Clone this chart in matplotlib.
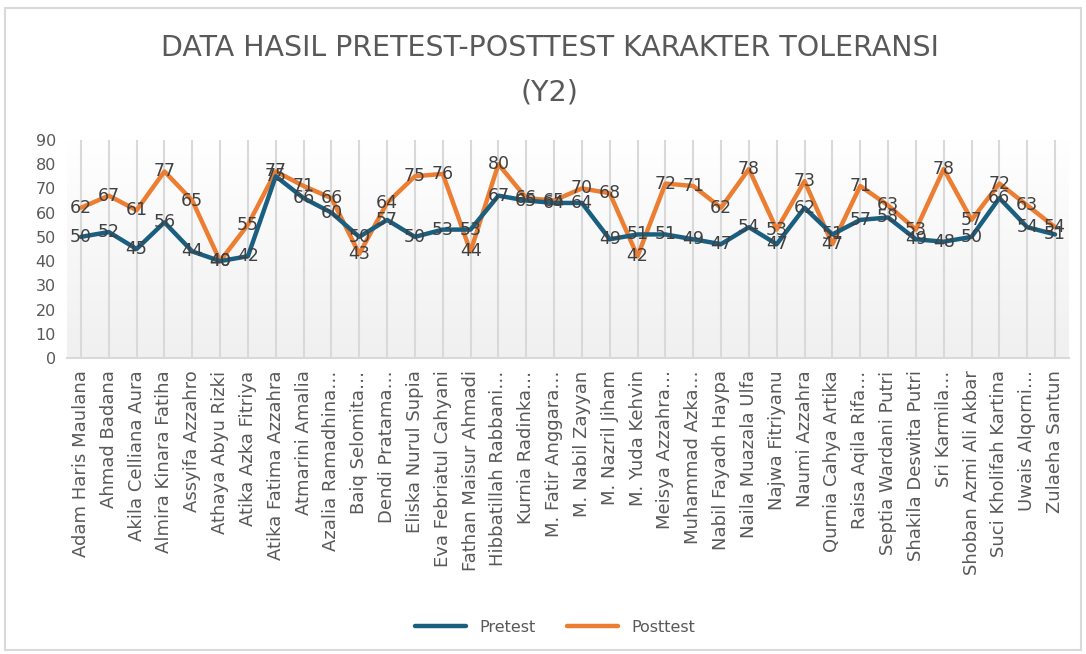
import numpy as np
import matplotlib.pyplot as plt
from matplotlib.lines import Line2D
from matplotlib.patches import Rectangle
from matplotlib.colors import LinearSegmentedColormap

# data
names = ["Adam Haris Maulana", "Ahmad Badana", "Akila Celliana Aura", "Almira Kinara Fatiha",
         "Assyifa Azzahro", "Athaya Abyu Rizki", "Atika Azka Fitriya", "Atika Fatima Azzahra",
         "Atmarini Amalia", "Azalia Ramadhina…", "Baiq Selomita…", "Dendi Pratama…",
         "Eliska Nurul Supia", "Eva Febriatul Cahyani", "Fathan Maisur Ahmadi", "Hibbatillah Rabbani…",
         "Kurnia Radinka…", "M. Fatir Anggara…", "M. Nabil Zayyan", "M. Nazril Jiham",
         "M. Yuda Kehvin", "Meisya Azzahra…", "Muhammad Azka…", "Nabil Fayadh Haypa",
         "Naila Muazala Ulfa", "Najwa Fitriyanu", "Naumi Azzahra", "Qurnia Cahya Artika",
         "Raisa Aqila Rifa…", "Septia Wardani Putri", "Shakila Deswita Putri", "Sri Karmila…",
         "Shoban Azmi Ali Akbar", "Suci Kholifah Kartina", "Uwais Alqorni…", "Zulaeha Santun"]
pretest = [50, 52, 45, 56, 44, 40, 42, 75, 66, 60, 50, 57, 50, 53, 53, 67, 65, 64,
           64, 49, 51, 51, 49, 47, 54, 47, 62, 51, 57, 58, 49, 48, 50, 66, 54, 51]
posttest = [62, 67, 61, 77, 65, 40, 55, 77, 71, 66, 43, 64, 75, 76, 44, 80, 66, 65,
            70, 68, 42, 72, 71, 62, 78, 53, 73, 47, 71, 63, 53, 78, 57, 72, 63, 54]

blue = "#1b5f80"
orange = "#ed7d31"
grey_txt = "#595959"
plt.rcParams['font.family'] = ['DejaVu Sans']

fig = plt.figure(figsize=(10.86, 6.54), dpi=100)
ax = fig.add_axes([0.0617, 0.4526, 0.9226, 0.3334])
x = np.arange(len(names))
ax.set_xlim(-0.5, len(names) - 0.5)
ax.set_ylim(0, 90)

# gradient background
grad = np.linspace(1, 0, 256).reshape(-1, 1)
ax.imshow(grad, extent=[-0.5, len(names) - 0.5, 0, 90], aspect='auto',
          cmap=LinearSegmentedColormap.from_list("g", ["#f0f0f0", "#ffffff"]),
          origin='upper', zorder=0)

for xi in x:
    ax.axvline(xi, color="#d9d9d9", lw=1.5, zorder=1)

ax.plot(x, posttest, color=orange, lw=3.2, zorder=3, solid_capstyle='round', solid_joinstyle='round')
ax.plot(x, pretest, color=blue, lw=3.2, zorder=4, solid_capstyle='round', solid_joinstyle='round')

for xi, v in zip(x, pretest):
    ax.text(xi, v, str(v), ha='center', va='center', fontsize=12.5, color="#404040", zorder=5)
for xi, v in zip(x, posttest):
    ax.text(xi, v, str(v), ha='center', va='center', fontsize=12.5, color="#404040", zorder=5)

for s in ['top', 'right', 'left']:
    ax.spines[s].set_visible(False)
ax.spines['bottom'].set_color("#d9d9d9")
ax.spines['bottom'].set_linewidth(1.5)

ax.set_yticks(np.arange(0, 91, 10))
ax.tick_params(axis='y', length=0, labelsize=11.5, labelcolor=grey_txt, pad=8)
ax.set_xticks(x)
ax.set_xticklabels(names, rotation=90, fontsize=13, color=grey_txt)
ax.tick_params(axis='x', length=0, pad=9)

fig.text(0.506, 0.926, "DATA HASIL PRETEST-POSTTEST KARAKTER TOLERANSI", ha='center', va='center',
         fontsize=20.5, color=grey_txt)
fig.text(0.506, 0.858, "(Y2)", ha='center', va='center', fontsize=20.5, color=grey_txt)

handles = [Line2D([0], [0], color=blue, lw=3.2, solid_capstyle='round'),
           Line2D([0], [0], color=orange, lw=3.2, solid_capstyle='round')]
fig.legend(handles, ["Pretest", "Posttest"], loc='center', bbox_to_anchor=(0.511, 0.041), ncol=2,
           frameon=False, fontsize=11.5, labelcolor=grey_txt, handlelength=3.2, columnspacing=2)

fig.patches.append(Rectangle((0.005, 0.006), 0.99, 0.982, transform=fig.transFigure,
                             fill=False, edgecolor="#d9d9d9", lw=1.5))

fig.savefig("out.png", dpi=100)
